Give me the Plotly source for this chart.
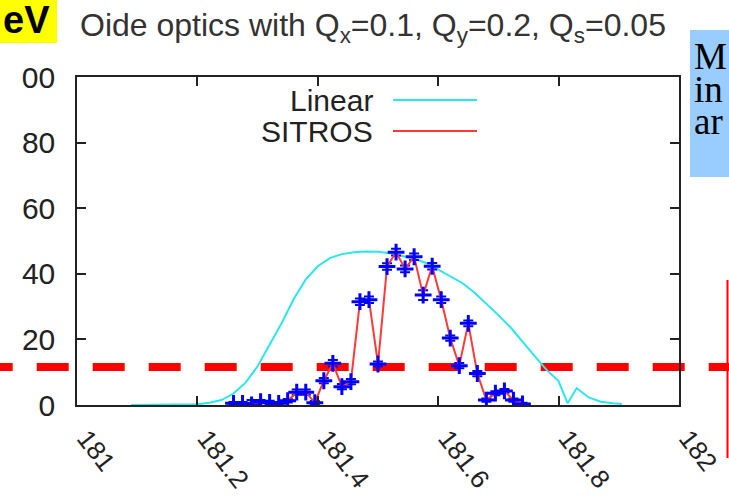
import plotly.graph_objects as go

# ---------------- data ----------------
linear_x = [181.09, 181.12, 181.15, 181.18, 181.20, 181.22, 181.24, 181.26, 181.28, 181.30,
            181.32, 181.34, 181.36, 181.38, 181.40, 181.42, 181.44, 181.46, 181.48, 181.50,
            181.52, 181.54, 181.56, 181.58, 181.60, 181.62, 181.64, 181.66, 181.68, 181.70,
            181.72, 181.74, 181.76, 181.78, 181.80, 181.815, 181.83, 181.85, 181.87, 181.89, 181.905]
linear_y = [0.0, 0.0, 0.0, 0.05, 0.2, 0.7, 1.5, 3.5, 6.8, 11.8,
            18.3, 25.0, 32.3, 38.3, 42.3, 44.8, 46.0, 46.6, 46.8, 46.7,
            46.3, 45.5, 44.6, 43.3, 41.3, 39.3, 37.2, 34.3, 31.0, 27.4,
            23.7, 19.5, 15.0, 10.7, 7.3, 0.5, 5.1, 2.3, 1.0, 0.5, 0.3]

sitros_x = [181.260, 181.275, 181.290, 181.305, 181.320, 181.335, 181.350, 181.365, 181.380, 181.395,
            181.410, 181.425, 181.440, 181.455, 181.470, 181.485, 181.500, 181.515, 181.530, 181.545,
            181.560, 181.575, 181.590, 181.605, 181.620, 181.635, 181.650, 181.665, 181.680, 181.695,
            181.710, 181.725, 181.740]
sitros_y = [0.5, 0.5, 0.0, 1.0, 0.8, 0.5, 1.3, 3.9, 3.9, 0.7,
            7.4, 12.7, 5.6, 7.1, 31.5, 32.1, 12.5, 42.2, 46.6, 41.5,
            45.2, 33.5, 42.3, 32.1, 20.4, 12.0, 24.9, 9.6, 1.5, 3.6,
            4.3, 1.5, 0.3]
sitros_err = [0.4, 0.4, 1.5, 0.5, 0.5, 0.4, 0.5, 0.8, 0.8, 0.5,
              0.8, 1.0, 0.8, 0.8, 1.0, 1.0, 0.8, 1.0, 1.0, 1.0,
              1.0, 1.5, 1.0, 1.0, 0.8, 0.8, 0.9, 0.8, 0.5, 0.6,
              0.6, 0.5, 0.4]

x_ticks = [181.0, 181.2, 181.4, 181.6, 181.8, 182.0]
x_ticklabels = ["181", "181.2", "181.4", "181.6", "181.8", "182"]
y_ticks = [0, 20, 40, 60, 80, 100]
y_ticklabels = ["0", "20", "40", "60", "80", "100"]

title_text = "Oide optics with Q<sub>x</sub>=0.1, Q<sub>y</sub>=0.2, Q<sub>s</sub>=0.05"
legend_names = ["Linear", "SITROS"]
threshold_y = 11.6

# ---------------- layout geometry ----------------
W, H = 729, 496
PL, PR, PT, PB = 77, 679, 77, 405
PW, PH = PR - PL, PB - PT


def px(x):
    return (x - PL) / PW


def py(y):
    return (PB - y) / PH


FONT = "Liberation Sans, Arial, sans-serif"
TXT = "#222222"
CYAN = "#2ae6ee"
RED = "#ff3838"

fig = go.Figure()
fig.add_trace(go.Scatter(x=linear_x, y=linear_y, mode="lines",
                         line=dict(color=CYAN, width=2), name=legend_names[0],
                         showlegend=False))
fig.add_trace(go.Scatter(x=sitros_x, y=sitros_y, mode="lines+markers",
                         line=dict(color=RED, width=2),
                         marker=dict(symbol="cross-thin", size=12, color="#0000ff",
                                     line=dict(color="#0000ff", width=3)),
                         error_y=dict(type="data", array=sitros_err, color="#0000ff",
                                      thickness=2, width=5),
                         name=legend_names[1], showlegend=False))

axis_common = dict(showline=True, linecolor=TXT, linewidth=1.5, mirror="ticks",
                   ticks="inside", ticklen=9, tickwidth=1.5, tickcolor=TXT,
                   showgrid=False, zeroline=False, automargin=False)

fig.update_xaxes(range=[181, 182], tickvals=x_ticks, ticktext=x_ticklabels,
                 tickangle=52, ticklabelstandoff=6, ticklabelshift=9,
                 tickfont=dict(family=FONT, size=26, color=TXT), **axis_common)
fig.update_yaxes(range=[0, 100], tickvals=y_ticks, ticktext=y_ticklabels,
                 ticklabelstandoff=14,
                 tickfont=dict(family=FONT, size=30, color=TXT), **axis_common)

shapes = []
# red dashed threshold line across the slide (below traces)
shapes.append(dict(type="line", xref="paper", yref="y",
                   x0=px(-19.3), x1=px(760), y0=threshold_y, y1=threshold_y,
                   line=dict(color="#ff0000", width=8, dash="32px,24px"), layer="below"))
# red vertical line at right edge
shapes.append(dict(type="line", xref="paper", yref="paper",
                   x0=px(727.5), x1=px(727.5), y0=py(280), y1=py(458),
                   line=dict(color="#ff0000", width=2), layer="above"))
# mask for cropped slide image left edge
shapes.append(dict(type="rect", xref="paper", yref="paper",
                   x0=px(-5), x1=px(21), y0=py(97), y1=py(58),
                   fillcolor="white", line=dict(width=0), layer="above"))
# yellow box
shapes.append(dict(type="rect", xref="paper", yref="paper",
                   x0=px(-5), x1=px(57), y0=py(43), y1=py(-5),
                   fillcolor="#ffff00", line=dict(width=0), layer="above"))
# blue box
shapes.append(dict(type="rect", xref="paper", yref="paper",
                   x0=px(690), x1=px(740), y0=py(177), y1=py(30),
                   fillcolor="#99ccff", line=dict(width=0), layer="above"))
# legend key lines
shapes.append(dict(type="line", xref="paper", yref="paper",
                   x0=px(393), x1=px(477), y0=py(100), y1=py(100),
                   line=dict(color=CYAN, width=2), layer="above"))
shapes.append(dict(type="line", xref="paper", yref="paper",
                   x0=px(393), x1=px(477), y0=py(131), y1=py(131),
                   line=dict(color=RED, width=2), layer="above"))

annotations = [
    dict(text=title_text, xref="paper", yref="paper", x=px(78), y=py(27),
         xanchor="left", yanchor="middle", showarrow=False,
         font=dict(family=FONT, size=32, color="#333333")),
    dict(text=legend_names[0], xref="paper", yref="paper", x=px(375), y=py(101),
         xanchor="right", yanchor="middle", showarrow=False,
         font=dict(family=FONT, size=30, color=TXT)),
    dict(text=legend_names[1], xref="paper", yref="paper", x=px(375), y=py(131),
         xanchor="right", yanchor="middle", showarrow=False,
         font=dict(family=FONT, size=30, color=TXT)),
    dict(text="<b>eV</b>", xref="paper", yref="paper", x=px(52), y=py(20),
         xanchor="right", yanchor="middle", showarrow=False,
         font=dict(family=FONT, size=38, color="black")),
]
for i, t in enumerate(["M", "in", "ar"]):
    annotations.append(dict(text=t, xref="paper", yref="paper", x=px(692), y=py(57 + 32 * i),
                            xanchor="left", yanchor="middle", showarrow=False,
                            font=dict(family="Liberation Serif, Times New Roman, serif",
                                      size=37, color="black")))

fig.update_layout(width=W, height=H,
                  margin=dict(l=PL, r=W - PR, t=PT, b=H - PB, pad=0),
                  paper_bgcolor="white", plot_bgcolor="rgba(0,0,0,0)",
                  shapes=shapes, annotations=annotations, showlegend=False)

fig.write_html("out.html")
